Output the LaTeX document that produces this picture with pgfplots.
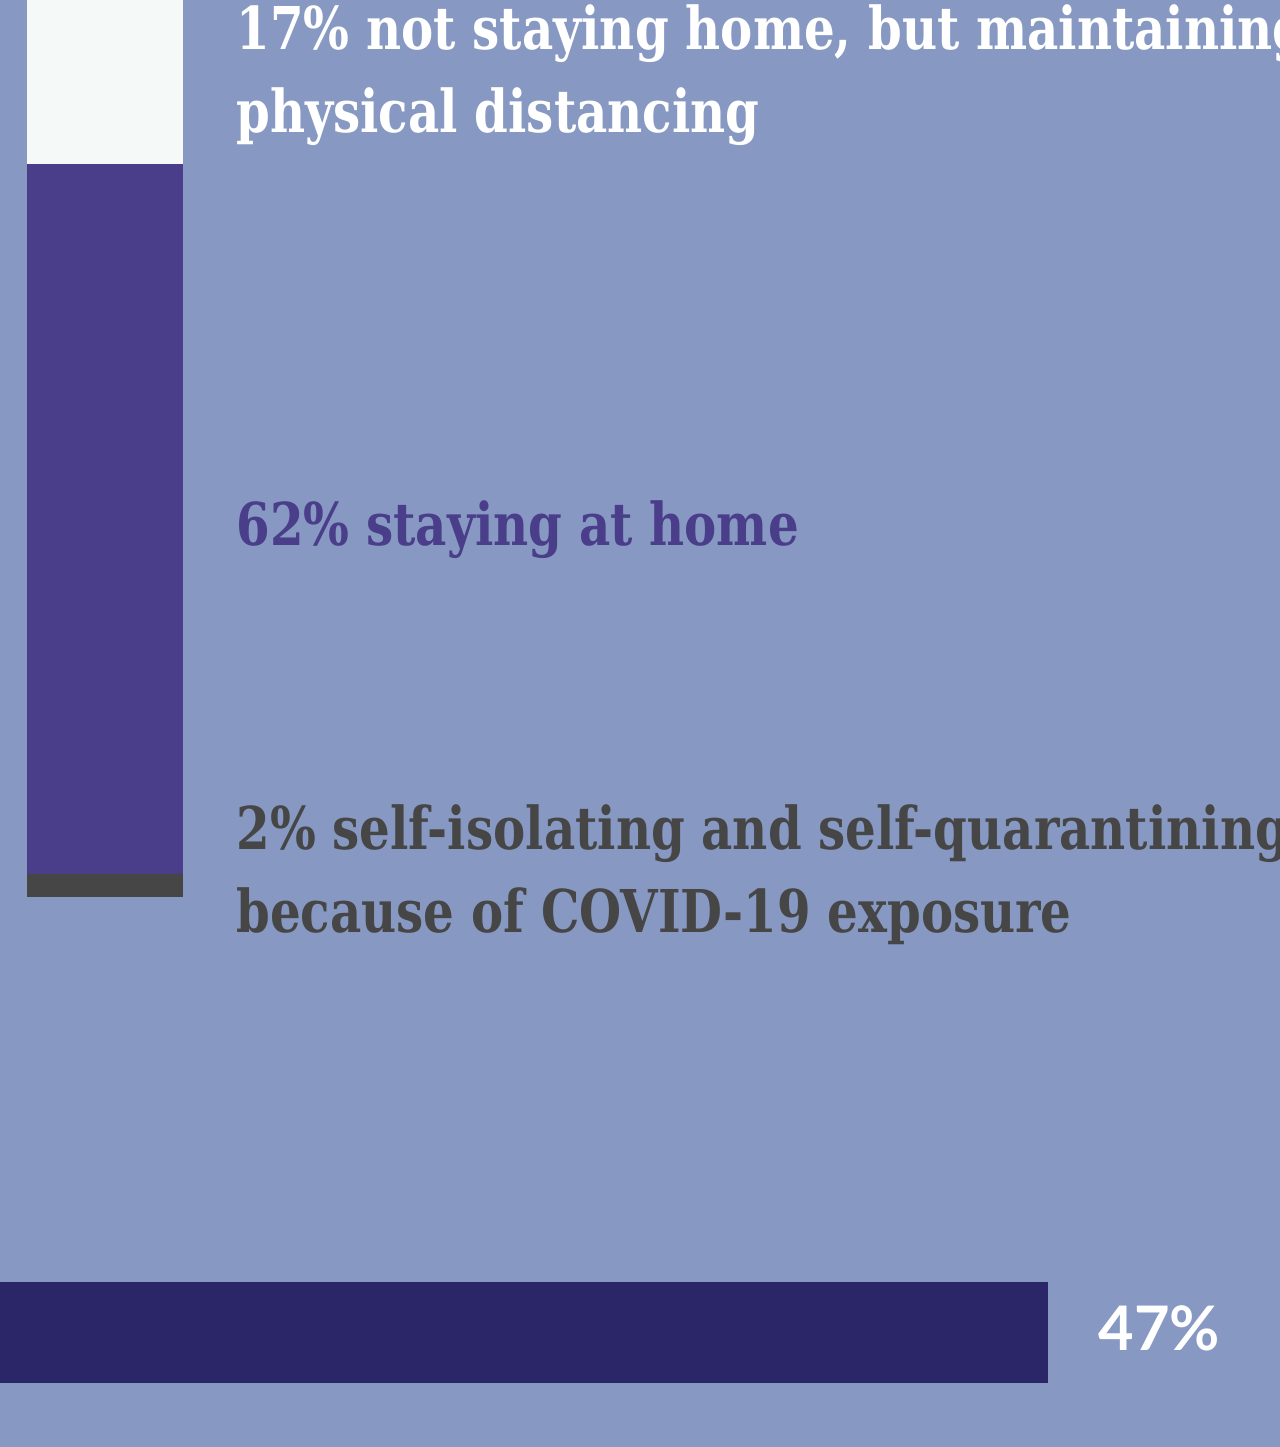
\documentclass[border=0pt]{standalone}
\usepackage{pgfplots}
\pgfplotsset{compat=1.18}
\usepackage{fontspec}
\setmainfont{DejaVu Serif Condensed}
\newfontfamily\lato{Lato}
\definecolor{bgc}{HTML}{8799C3}
\definecolor{whitec}{HTML}{F5F9F8}
\definecolor{purplec}{HTML}{4A3D8A}
\definecolor{grayc}{HTML}{464646}
\definecolor{navyc}{HTML}{2A2668}
\newcommand{\lbl}[1]{\scalebox{0.91}[1]{#1}}
\begin{document}
\begin{tikzpicture}[x=0.5pt,y=0.5pt]
\useasboundingbox (0,0) rectangle (1280,1447);
\clip (0,0) rectangle (1280,1447);
\fill[bgc] (0,0) rectangle (1280,1447);
\begin{axis}[
  at={(0,0)}, anchor=south west, scale only axis,
  width=640pt, height=723.5pt,
  xmin=0, xmax=1280, ymin=-48.03, ymax=78.34,
  hide axis, ybar stacked, bar width=156,
]
\addplot[fill=grayc, draw=none] coordinates {(105,2)};
\addplot[fill=purplec, draw=none] coordinates {(105,62)};
\addplot[fill=whitec, draw=none] coordinates {(105,17)};
\end{axis}
\begin{axis}[
  at={(0,0)}, anchor=south west, scale only axis,
  width=640pt, height=723.5pt,
  xmin=0, xmax=57.40, ymin=0, ymax=1447, y dir=reverse,
  hide axis, xbar, bar width=101,
]
\addplot[fill=navyc, draw=none] coordinates {(47,1332.5)};
\end{axis}
\begin{scope}[every node/.style={anchor=base west, inner sep=0pt, font=\bfseries\fontsize{29.5pt}{35pt}\selectfont}]
\node[text=white] at (236,1447-50) {\lbl{17\% not staying home, but maintaining}};
\node[text=white] at (236,1447-133) {\lbl{physical distancing}};
\node[text=purplec] at (236,1447-546) {\lbl{62\% staying at home}};
\node[text=grayc] at (236,1447-850) {\lbl{2\% self-isolating and self-quarantining}};
\node[text=grayc] at (236,1447-933) {\lbl{because of COVID-19 exposure}};
\end{scope}
\node[anchor=base west, inner sep=0pt, text=white, font=\lato\bfseries\fontsize{30.7pt}{36pt}\selectfont] at (1098,1447-1351) {47\%};
\end{tikzpicture}
\end{document}
